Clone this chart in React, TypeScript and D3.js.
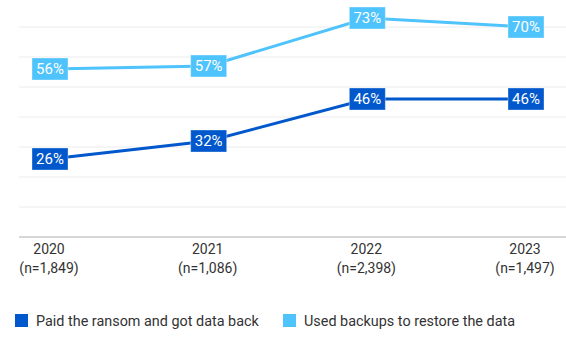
import React from "react";
import * as d3 from "d3";

const years = ["2020", "2021", "2022", "2023"];
const sampleSizes = ["(n=1,849)", "(n=1,086)", "(n=2,398)", "(n=1,497)"];
const paidRansom = [26, 32, 46, 46];
const usedBackups = [56, 57, 73, 70];
const gridTicks = [10, 20, 30, 40, 50, 60, 70];
const seriesNames = ["Paid the ransom and got data back", "Used backups to restore the data"];
const seriesColors = ["#0058cc", "#4fc3fb"];

const W = 566;
const H = 339;
const FONT = "Roboto, 'Liberation Sans', sans-serif";

export default function App() {
  const x = d3.scalePoint<string>().domain(years).range([50, 526]);
  const y = d3.scaleLinear().domain([0, 70]).range([237, 27]);
  const line = d3
    .line<number>()
    .x((_, i) => x(years[i]) as number)
    .y((d) => y(d));

  const series = [paidRansom, usedBackups];

  return (
    <svg
      width={W}
      height={H}
      style={{ position: "absolute", left: 0, top: 0, background: "#fff" }}
      fontFamily={FONT}
    >
      {gridTicks.map((t) => (
        <line key={t} x1={19} x2={W} y1={y(t)} y2={y(t)} stroke="#ececec" strokeWidth={1} />
      ))}
      <line x1={19} x2={W} y1={y(0)} y2={y(0)} stroke="#c8c8c8" strokeWidth={1.5} />

      {years.map((yr, i) => (
        <g key={yr} transform={`translate(${x(yr)! - 1},0)`} fill="#333" fontSize={14} textAnchor="middle">
          <text y={254}>{yr}</text>
          <text y={273}>{sampleSizes[i]}</text>
        </g>
      ))}

      {series.map((s, si) => (
        <path key={si} d={line(s) || ""} fill="none" stroke={seriesColors[si]} strokeWidth={3} />
      ))}

      {series.map((s, si) =>
        s.map((v, i) => (
          <g key={`${si}-${i}`} transform={`translate(${x(years[i])},${y(v)})`}>
            <rect x={-18} y={-11} width={36} height={22} fill={seriesColors[si]} stroke="#ffffff" strokeOpacity={0.35} strokeWidth={1} />
            <text textAnchor="middle" dy="0.36em" fill="#fff" fontSize={15}>
              {v}%
            </text>
          </g>
        ))
      )}

      {seriesNames.map((name, i) => {
        const lx = i === 0 ? 15 : 283;
        return (
          <g key={name} transform={`translate(${lx},314)`}>
            <rect width={13} height={13} fill={seriesColors[i]} />
            <text x={21} y={6.5} dy="0.36em" fontSize={14.4} fill="#333">
              {name}
            </text>
          </g>
        );
      })}
    </svg>
  );
}
